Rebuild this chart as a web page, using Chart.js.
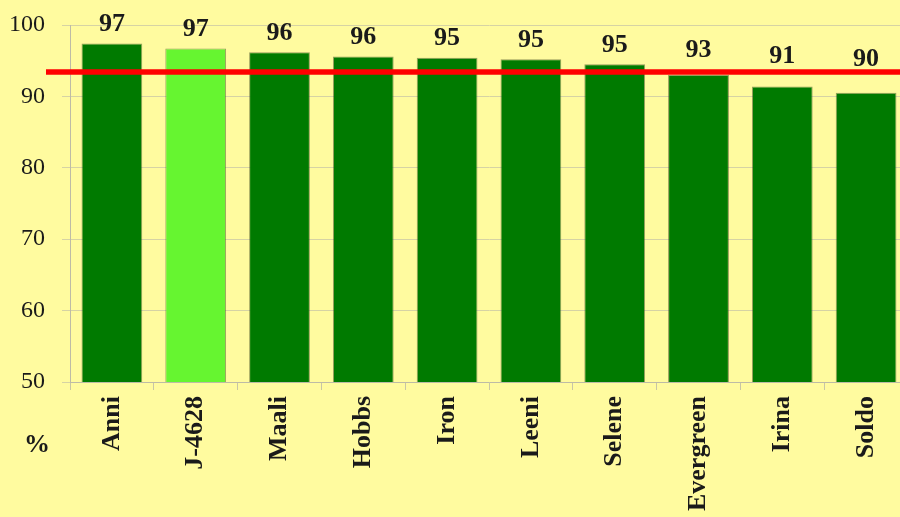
<!DOCTYPE html>
<html>
<head>
<meta charset="utf-8">
<script src="https://cdn.jsdelivr.net/npm/chart.js@4.4.1/dist/chart.umd.min.js"></script>
<style>
  html, body { margin: 0; padding: 0; background: #fffb9f; overflow: hidden; width: 900px; height: 517px; }
  #wrap { width: 910px; height: 517px; position: relative; }
</style>
</head>
<body>
<div id="wrap"><canvas id="c"></canvas></div>
<script>
// values
const categories = ["Anni", "J-4628", "Maali", "Hobbs", "Iron", "Leeni", "Selene", "Evergreen", "Irina", "Soldo"];
const values = [97.4, 96.7, 96.2, 95.6, 95.4, 95.2, 94.5, 93.0, 91.4, 90.5];
const valueLabels = ["97", "97", "96", "96", "95", "95", "95", "93", "91", "90"];
const highlighted = "J-4628";
const referenceLevel = 93.4;
const yMin = 50, yMax = 100, yStep = 10;
const unitLabel = "%";

const SERIF = '"Liberation Serif", "Times New Roman", serif';
const INK = "#1a1a1a";

const overlay = {
  id: "overlay",
  afterDatasetsDraw(chart) {
    const ctx = chart.ctx, area = chart.chartArea;
    const y = chart.scales.y;
    ctx.save();
    // red reference line
    const ry = y.getPixelForValue(referenceLevel);
    ctx.strokeStyle = "#ff0000";
    ctx.lineWidth = 5.5;
    ctx.beginPath();
    ctx.moveTo(area.left - 24, ry);
    ctx.lineTo(chart.width, ry);
    ctx.stroke();
    // value labels above the bars (lower bars get a bit more room, as in the original)
    ctx.fillStyle = INK;
    ctx.font = "bold 26px " + SERIF;
    ctx.textAlign = "center";
    ctx.textBaseline = "alphabetic";
    chart.getDatasetMeta(0).data.forEach((bar, i) => {
      const t = bar.y - area.top;
      const gap = Math.max(12.5, 0.5 * t - 7);
      ctx.fillText(valueLabels[i], bar.x, bar.y - gap);
    });
    // unit label under the y axis
    ctx.fillText(unitLabel, area.left - 33, area.bottom + 70);
    ctx.restore();
  }
};

new Chart(document.getElementById("c").getContext("2d"), {
  type: "bar",
  data: {
    labels: categories,
    datasets: [{
      data: values,
      backgroundColor: categories.map(c => c === highlighted ? "#66f530" : "#007a00"),
      borderColor: "rgba(70,80,40,0.55)",
      borderWidth: 1,
      barPercentage: 0.725,
      categoryPercentage: 1.0,
    }]
  },
  options: {
    responsive: true, maintainAspectRatio: false, animation: false,
    layout: { padding: { top: 25, right: 2, left: 0, bottom: 0 } },
    plugins: { legend: { display: false }, tooltip: { enabled: false } },
    scales: {
      x: {
        grid: { drawOnChartArea: false, tickLength: 8, color: "#c8c6a4", offset: true },
        border: { color: "#bdbba6" },
        ticks: { color: INK, font: { family: SERIF, size: 26, weight: "bold" }, minRotation: 90, maxRotation: 90, padding: 6 },
        afterFit(scale) { scale.height = 135; },
      },
      y: {
        min: yMin, max: yMax,
        grid: { color: "#d6d3a4", tickLength: 8 },
        border: { color: "#bdbba6" },
        ticks: { stepSize: yStep, color: INK, font: { family: SERIF, size: 24 }, padding: 17 },
        // keep the plot top at the 100 line, no extra label padding
        afterFit(scale) { scale.width = 70; scale.paddingTop = 0; scale.paddingBottom = 0; },
      },
    },
  },
  plugins: [overlay],
});
</script>
</body>
</html>
